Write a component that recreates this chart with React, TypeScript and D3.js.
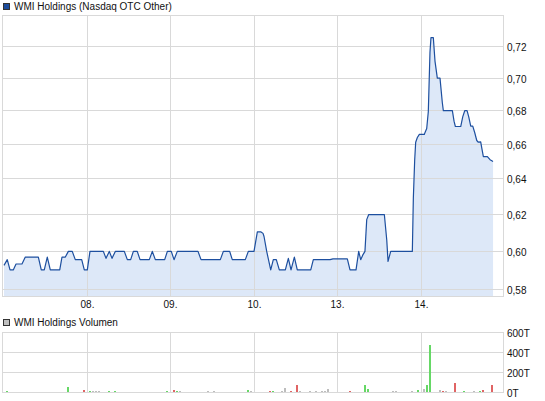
import React from 'react';
import * as d3 from 'd3';

const W = 545;
const H = 401;

// intraday price, [day offset from 07., price]
const priceTimes = [
  0.003, 0.042, 0.075, 0.114, 0.147, 0.218, 0.258, 0.414, 0.449, 0.485, 0.521, 0.557, 0.67, 0.697,
  0.737, 0.773, 0.82, 0.856, 0.933, 0.964, 1.0, 1.032, 1.192, 1.224, 1.263, 1.296, 1.335, 1.443,
  1.479, 1.519, 1.551, 1.598, 1.631, 1.742, 1.778, 1.814, 1.926, 1.958, 2.005, 2.038, 2.077, 2.325,
  2.361, 2.592, 2.628, 2.704, 2.735, 2.891, 2.927, 2.995, 3.035, 3.079, 3.103, 3.115, 3.147, 3.195,
  3.226, 3.262, 3.298, 3.37, 3.406, 3.438, 3.478, 3.513, 3.674, 3.705, 3.905, 3.941, 4.112, 4.144,
  4.216, 4.248, 4.272, 4.296, 4.323, 4.344, 4.368, 4.555, 4.584, 4.599, 4.631, 4.89, 4.902, 4.918,
  4.93, 4.95, 4.974, 5.033, 5.042, 5.062, 5.081, 5.101, 5.113, 5.141, 5.161, 5.189, 5.221, 5.249,
  5.261, 5.369, 5.389, 5.405, 5.469, 5.493, 5.517, 5.545, 5.565, 5.589, 5.613, 5.637, 5.661, 5.68,
  5.708, 5.724, 5.74, 5.788, 5.82, 5.856,
];
const priceValues = [
  0.5926, 0.5956, 0.5902, 0.5902, 0.5933, 0.5933, 0.597, 0.597, 0.5902, 0.5902, 0.597, 0.5902, 0.5902, 0.597,
  0.597, 0.6, 0.6, 0.5956, 0.5956, 0.5902, 0.5902, 0.6, 0.6, 0.5963, 0.6, 0.5963, 0.6, 0.6,
  0.5956, 0.5956, 0.6, 0.6, 0.5956, 0.5956, 0.6, 0.5956, 0.5956, 0.6, 0.6, 0.5956, 0.6, 0.6,
  0.5956, 0.5956, 0.6, 0.6, 0.5956, 0.5956, 0.6, 0.6, 0.6105, 0.6105, 0.6097, 0.608, 0.6, 0.5902,
  0.5956, 0.5956, 0.5902, 0.5902, 0.5963, 0.5902, 0.597, 0.5902, 0.5902, 0.5956, 0.5956, 0.596, 0.596, 0.5902,
  0.5902, 0.6, 0.5956, 0.598, 0.6, 0.6172, 0.62, 0.62, 0.606, 0.5947, 0.6, 0.6, 0.629, 0.6507,
  0.6612, 0.664, 0.6658, 0.6658, 0.667, 0.6693, 0.6794, 0.7161, 0.7257, 0.7257, 0.7107, 0.7, 0.7, 0.6848,
  0.68, 0.68, 0.6737, 0.6705, 0.6705, 0.6763, 0.68, 0.68, 0.6763, 0.6707, 0.6707, 0.6668, 0.6622, 0.6612,
  0.6614, 0.657, 0.6528, 0.6528, 0.651, 0.65,
];

// volume bars: time, shares, direction (1 up, -1 down, 0 unchanged)
const volTimes = [
  0.037, 0.769, 0.961, 1.03, 1.066, 1.102, 1.138, 1.257, 1.329, 1.952, 2.038, 2.071, 2.107, 2.442,
  2.514, 2.921, 2.962, 3.189, 3.225, 3.333, 3.369, 3.44, 3.512, 3.548, 3.668, 3.74, 3.812, 3.847,
  3.883, 4.147, 4.326, 4.362, 4.661, 4.697, 4.884, 4.958, 5.027, 5.063, 5.099, 5.135, 5.219, 5.255,
  5.291, 5.399, 5.434, 5.506, 5.626, 5.698, 5.734, 5.841,
];
const volValues = [
  12000, 53000, 23000, 12000, 12000, 12000, 12000, 12000, 12000, 12000, 27000, 12000, 12000, 12000,
  12000, 27000, 12000, 12000, 12000, 12000, 43000, 12000, 73000, 12000, 12000, 12000, 12000, 12000,
  33000, 12000, 73000, 33000, 12000, 12000, 12000, 25000, 33000, 73000, 473000, 10000, 23000, 13000,
  13000, 93000, 10000, 13000, 13000, 13000, 23000, 73000,
];
const volDirs = [
  1, 1, -1, 1, 0, 0, 0, 1, 1, 1, -1, 1, 0, 0,
  0, 1, 0, -1, 1, 0, 0, -1, -1, 0, 0, 0, 0, 0,
  0, -1, 1, 1, 0, 0, 0, 1, 0, 1, 1, 0, 0, -1,
  0, -1, 0, 1, 0, 1, -1, -1,
];

const dayTicks = [1, 2, 3, 4, 5];
const dayLabels = ['08.', '09.', '10.', '13.', '14.'];
const priceTicks = [0.58, 0.6, 0.62, 0.64, 0.66, 0.68, 0.7, 0.72];
const volTicks = [0, 200000, 400000, 600000];

const GRID = '#d9d9d9';
const LINE = '#1d4f9f';
const FILL = '#dde8f8';
const TXT = '#111';
const font = '"Liberation Sans", Arial, sans-serif';

const px = (v: number) => Math.round(v - 0.5) + 0.5;

export default function App() {
  const x = d3.scaleLinear().domain([-0.015, 5.981]).range([2.5, 503.5]);
  const y = d3.scaleLog().domain([0.5764, 0.7401]).range([296.5, 15.5]);
  const yv = d3.scaleLinear().domain([0, 600000]).range([392.5, 332.5]);

  const pts: [number, number][] = priceTimes.map((t, i) => [t, priceValues[i]]);
  const line = d3.line<[number, number]>().x(d => x(d[0])).y(d => y(d[1]));
  const area = d3
    .area<[number, number]>()
    .x(d => x(d[0]))
    .y0(296)
    .y1(d => y(d[1]));

  const fmtP = (v: number) => d3.format('.2f')(v).replace('.', ',');
  const fmtV = (v: number) => `${v / 1000}T`;
  const barColor = (d: number) => (d > 0 ? '#66d866' : d < 0 ? '#e06464' : '#bdbdbd');

  return (
    <svg width={W} height={H} style={{ position: 'absolute', left: 0, top: 0, background: '#fff' }}
      fontFamily={font} fontSize={10}>
      {/* price legend */}
      <rect x={3.5} y={3.5} width={6} height={6} fill="#1c4c9c" stroke="#333" />
      <text x={14} y={10} fill={TXT}>WMI Holdings (Nasdaq OTC Other)</text>

      {/* price panel */}
      <path d={area(pts) || ''} fill={FILL} />
      {priceTicks.map(t => (
        <line key={t} x1={x.range()[0]} x2={x.range()[1]} y1={px(y(t))} y2={px(y(t))} stroke={GRID} />
      ))}
      {dayTicks.map(t => (
        <line key={t} x1={px(x(t))} x2={px(x(t))} y1={15.5} y2={296.5} stroke={GRID} />
      ))}
      <rect x={2.5} y={15.5} width={501} height={281} fill="none" stroke={GRID} />
      <path d={line(pts) || ''} fill="none" stroke={LINE} strokeWidth={1.2} strokeLinejoin="round" />
      {priceTicks.map(t => (
        <text key={t} x={507} y={px(y(t)) + 4.5} fill={TXT}>{fmtP(t)}</text>
      ))}
      {dayTicks.map((t, i) => (
        <text key={t} x={px(x(t))} y={308} textAnchor="middle" fill={TXT}>{dayLabels[i]}</text>
      ))}

      {/* volume legend */}
      <rect x={3.5} y={319.5} width={6} height={6} fill="#c0c0c0" stroke="#333" />
      <text x={14} y={326} fill={TXT}>WMI Holdings Volumen</text>

      {/* volume panel */}
      {volTicks.map(t => (
        <line key={t} x1={2.5} x2={503.5} y1={yv(t)} y2={yv(t)} stroke={GRID} />
      ))}
      {dayTicks.map(t => (
        <line key={t} x1={px(x(t))} x2={px(x(t))} y1={332.5} y2={392.5} stroke={GRID} />
      ))}
      <rect x={2.5} y={332.5} width={501} height={60} fill="none" stroke={GRID} />
      {volTimes.map((t, i) => (
        <rect key={i} x={Math.round(x(t)) - 1} width={2} y={yv(volValues[i])}
          height={392 - yv(volValues[i])} fill={barColor(volDirs[i])} shapeRendering="crispEdges" />
      ))}
      {volTicks.map(t => (
        <text key={t} x={507} y={yv(t) + 4.5} fill={TXT}>{fmtV(t)}</text>
      ))}
    </svg>
  );
}
